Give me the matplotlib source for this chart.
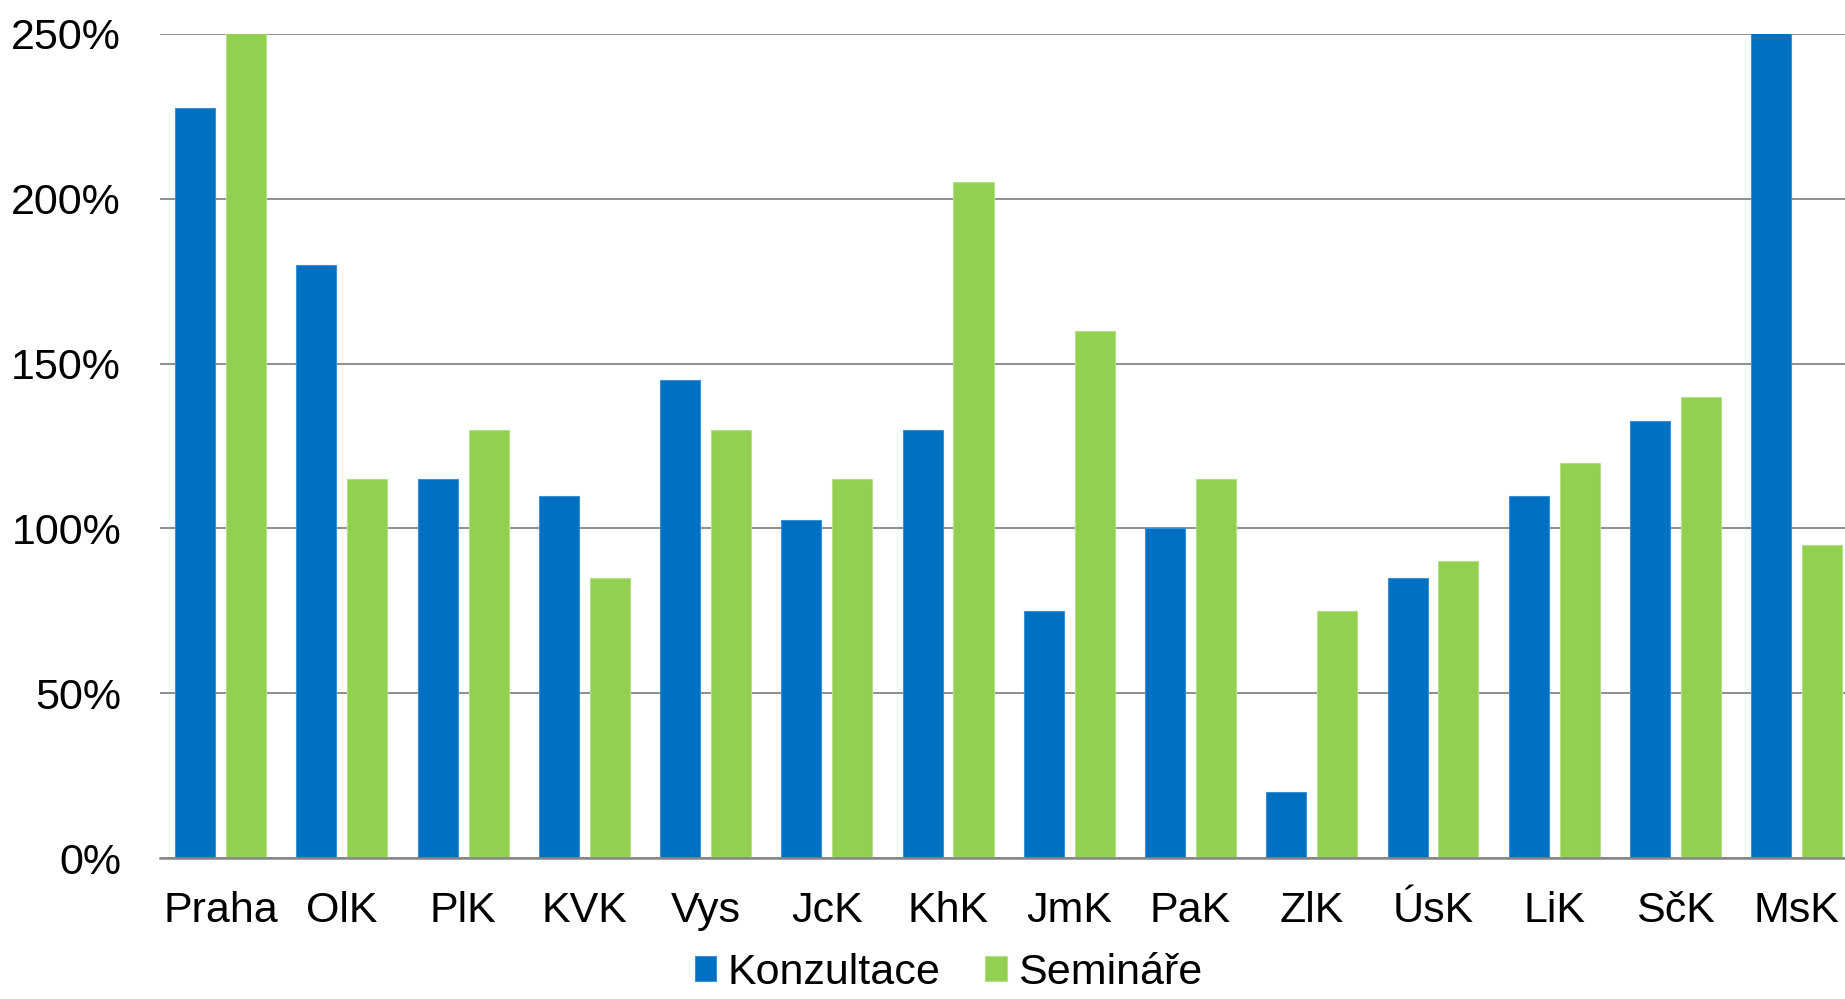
import matplotlib
matplotlib.use("Agg")
import matplotlib.pyplot as plt
import numpy as np
from matplotlib.ticker import FuncFormatter, MultipleLocator

plt.rcParams['font.family'] = ['Liberation Sans', 'DejaVu Sans']

categories = ["Praha", "OlK", "PlK", "KVK", "Vys", "JcK", "KhK", "JmK", "PaK", "ZlK", "ÚsK", "LiK", "SčK", "MsK"]
konzultace = [227.5, 180, 115, 110, 145, 102.5, 130, 75, 100, 20, 85, 110, 132.5, 260]
seminare = [260, 115, 130, 85, 130, 115, 205, 160, 115, 75, 90, 120, 140, 95]
series_names = ["Konzultace", "Semináře"]
colors = ["#0070C0", "#92D050"]
edge_colors = ["#3a8fd6", "#b5e08a"]

fig = plt.figure(figsize=(18.45, 9.99), dpi=100)
ax = fig.add_axes([0.0867, 0.141, 0.92, 0.825])

x = np.arange(len(categories))
w = 0.33
off = 0.21
ax.bar(x - off, konzultace, width=w, color=colors[0], edgecolor=edge_colors[0], linewidth=0.8, label=series_names[0], zorder=3)
ax.bar(x + off, seminare, width=w, color=colors[1], edgecolor=edge_colors[1], linewidth=0.8, label=series_names[1], zorder=3)

ax.set_xlim(-0.5, len(categories) - 0.5)
ax.set_ylim(0, 250)
ax.yaxis.set_major_locator(MultipleLocator(50))
ax.yaxis.set_major_formatter(FuncFormatter(lambda v, p: f"{int(v)}%"))
ax.grid(axis='y', color='#868686', linewidth=1.3, zorder=0)
ax.set_axisbelow(True)
for s in ['top', 'right', 'left']:
    ax.spines[s].set_visible(False)
ax.spines['bottom'].set_color('#868686')
ax.spines['bottom'].set_linewidth(1.8)
ax.spines['bottom'].set_zorder(4)

ax.set_xticks(x)
ax.set_xticklabels(categories)
ax.tick_params(axis='y', length=0, pad=28, labelsize=31)
ax.tick_params(axis='x', length=0, pad=24, labelsize=31)

leg = fig.legend(loc='lower center', bbox_to_anchor=(0.514, 0.0), ncol=2, frameon=False,
                 fontsize=31, handlelength=0.5, handleheight=0.5, handletextpad=0.25,
                 columnspacing=1.05, borderpad=0.05, borderaxespad=0.1)

fig.savefig("out.png", dpi=100)
